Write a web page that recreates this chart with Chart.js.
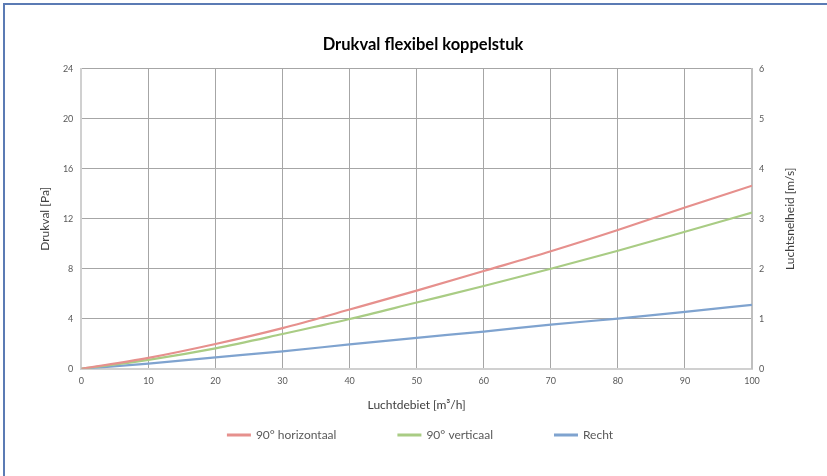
<!DOCTYPE html>
<html>
<head>
<meta charset="utf-8">
<script src="https://cdn.jsdelivr.net/npm/chart.js@4/dist/chart.umd.min.js"></script>
<style>
  html, body { margin: 0; padding: 0; background: #fff; overflow: hidden; }
  #frame { position: absolute; left: 3px; top: 3px; width: 900px; height: 600px;
           border-left: 2px solid #5b7bb4; border-top: 2px solid #5b7bb4; }
  #wrap { position: absolute; left: 0; top: 0; width: 827px; height: 476px; }
</style>
</head>
<body>
<div id="frame"></div>
<div id="wrap"><canvas id="druk"></canvas></div>
<script>
// luchtdebiet in m3/h
const debiet = [0, 10, 20, 30, 40, 50, 60, 70, 80, 90, 100];
const horizontaal = [0, 0.87, 1.98, 3.25, 4.74, 6.25, 7.82, 9.4, 11.1, 12.9, 14.65];
const verticaal = [0, 0.72, 1.64, 2.78, 3.98, 5.3, 6.62, 8.0, 9.44, 10.96, 12.5];
const recht = [0, 0.42, 0.92, 1.4, 1.95, 2.48, 2.98, 3.53, 4.02, 4.56, 5.12];

const seriesNames = ["90° horizontaal", "90° verticaal", "Recht"];
const seriesColors = ["#e6908d", "#a9cc84", "#7fa3cf"];

const fnt = "Lato, 'DejaVu Sans', sans-serif";
const tickGrey = "#595959";

function mkPoints(ys){
  let pts = [];
  for (let i = 0; i < debiet.length; i++){ pts.push({x: debiet[i], y: ys[i]}); }
  return pts;
}

const allSeries = [horizontaal, verticaal, recht];
const datasets = [];
for (let i = 0; i < allSeries.length; i++){
  datasets.push({
    label: seriesNames[i],
    data: mkPoints(allSeries[i]),
    borderColor: seriesColors[i],
    backgroundColor: seriesColors[i],
    borderWidth: 2.2,
    pointRadius: 0,
    cubicInterpolationMode: "monotone",
    yAxisID: "y"
  });
}

// right axis title (reads bottom to top) + legend with wide gaps, drawn on the canvas
const extras = {
  id: "extras",
  afterDraw(chart){
    const ctx = chart.ctx;
    const ca = chart.chartArea;
    ctx.save();
    ctx.fillStyle = "#404040";
    ctx.font = "12px " + fnt;
    ctx.textAlign = "center";
    ctx.textBaseline = "middle";
    ctx.translate(ca.right + 38, (ca.top + ca.bottom) / 2);
    ctx.rotate(-Math.PI / 2);
    ctx.fillText("Luchtsnelheid [m/s]", 0, 0);
    ctx.restore();

    // legend
    ctx.save();
    ctx.font = "12px " + fnt;
    ctx.textBaseline = "middle";
    const lineW = 24, gap = 5, between = 61, ly = 435;
    const items = chart.data.datasets.map(d => ({ text: d.label, color: d.borderColor, w: ctx.measureText(d.label).width }));
    let total = 0;
    items.forEach((it, i) => { total += lineW + gap + it.w + (i < items.length - 1 ? between : 0); });
    let x = 420 - total / 2;
    items.forEach(it => {
      ctx.fillStyle = it.color;
      ctx.fillRect(x, ly - 1.5, lineW, 3);
      ctx.fillStyle = tickGrey;
      ctx.fillText(it.text, x + lineW + gap, ly);
      x += lineW + gap + it.w + between;
    });
    ctx.restore();
  }
};

const cfg = {
  type: "line",
  data: { datasets: datasets },
  options: {
    responsive: false,
    animation: false,
    layout: { padding: { left: 34, right: 15, top: 29, bottom: 64 } },
    plugins: {
      title: {
        display: true,
        text: "Drukval flexibel koppelstuk",
        color: "#000",
        font: { family: fnt, size: 16.5, weight: "bold" },
        padding: { top: 6, bottom: 14 }
      },
      legend: { display: false },
      tooltip: { enabled: false }
    },
    scales: {
      x: {
        type: "linear",
        min: 0, max: 100,
        ticks: { stepSize: 10, color: tickGrey, font: { family: fnt, size: 9 }, padding: 7 },
        grid: { color: "#a6a6a6", lineWidth: 1, drawTicks: false },
        border: { color: "#d0d0d0", width: 2 },
        title: { display: true, text: "Luchtdebiet [m³/h]", color: "#404040",
                 font: { family: fnt, size: 12 }, padding: { top: 4, bottom: 0 } }
      },
      y: {
        position: "left",
        min: 0, max: 24,
        ticks: { stepSize: 4, color: tickGrey, font: { family: fnt, size: 9 }, padding: 8 },
        grid: { color: "#a6a6a6", lineWidth: 1, drawTicks: false },
        border: { color: "#d0d0d0", width: 2 },
        title: { display: true, text: "Drukval [Pa]", color: "#404040",
                 font: { family: fnt, size: 12 }, padding: { top: 4, bottom: 2.5 } }
      },
      y2: {
        position: "right",
        min: 0, max: 6,
        ticks: { stepSize: 1, color: tickGrey, font: { family: fnt, size: 9 }, padding: 7 },
        grid: { display: false, drawTicks: false },
        border: { color: "#bfbfbf", width: 2 },
        afterFit: (scale) => { scale.width = 60; }
      }
    }
  },
  plugins: [extras]
};

const cv = document.getElementById("druk");
cv.width = 827; cv.height = 476;
const drukChart = new Chart(cv, cfg);
</script>
</body>
</html>
